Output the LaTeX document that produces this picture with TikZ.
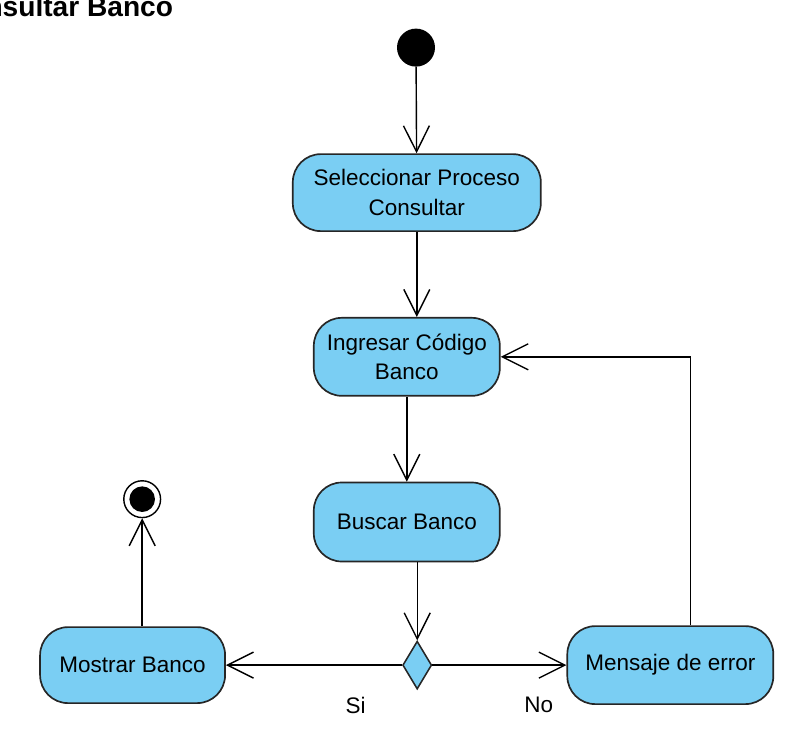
\documentclass[tikz,border=0pt]{standalone}
\usepackage{fontspec}
\setmainfont{Liberation Sans}
\usetikzlibrary{arrows.meta,positioning,shapes.geometric}
\definecolor{actblue}{RGB}{122,206,243}

\begin{document}
\begin{tikzpicture}[
    action/.style={draw, line width=1.2pt, draw=black!85, rounded corners=0.7cm, align=center, fill=actblue, inner sep=2pt, font=\fontsize{16}{21.3}\selectfont},
    startnode/.style={circle, fill=black, minimum size=0.95cm, inner sep=0pt},
    endnode/.style={circle, draw, line width=1pt, fill=white, minimum size=0.92cm, inner sep=0pt,
        path picture={\fill[black] (path picture bounding box.center) circle (0.32cm);}},
    decision/.style={diamond, draw, line width=1.1pt, draw=black!85, fill=actblue, minimum width=0.725cm, minimum height=1.2cm, inner sep=0pt},
    lbl/.style={font=\fontsize{16}{19}\selectfont},
    arrow/.style={-{Straight Barb[length=6.5mm,width=6.5mm,line width=1pt]}, line width=1pt}
]
\useasboundingbox (0,0) rectangle (20.025,-18.325);
\node[anchor=base east, font=\fontsize{20}{24}\selectfont\bfseries] (title) at (4.45,-0.41) {Consultar Banco};
\node[startnode] (start) at (10.4,-1.19) {};
\node[action, minimum width=6.2cm, minimum height=1.925cm, below=2.16cm of start, xshift=0.02cm] (selec) {Seleccionar Proceso\\Consultar};
\node[action, minimum width=4.65cm, minimum height=1.95cm, below=2.125cm of selec, xshift=-0.25cm] (ingresar) {Ingresar Código\\Banco};
\node[action, minimum width=4.65cm, minimum height=1.975cm, below=2.125cm of ingresar] (buscar) {Buscar Banco};
\node[decision, below=1.95cm of buscar, xshift=0.26cm] (dec) {};
\node[action, minimum width=4.625cm, minimum height=1.9cm, left=4.4cm of dec] (mostrar) {Mostrar Banco};
\node[action, minimum width=5.15cm, minimum height=1.95cm, right=3.35cm of dec] (error) {Mensaje de error};
\node[endnode, above=2.7cm of mostrar, xshift=0.24cm] (fin) {};
\node[lbl] (si) at ([shift={(-1.54,-1.0)}]dec) {Si};
\node[lbl] (no) at ([shift={(3.04,-1.0)}]dec) {No};
\draw[arrow] (start) -- (selec);
\draw[arrow] (selec) -- (selec |- ingresar.north);
\draw[arrow] (ingresar) -- (buscar);
\draw[arrow] (buscar.south -| dec) -- (dec);
\draw[arrow] (dec) -- (mostrar);
\draw[arrow] (dec) -- (error);
\draw[arrow] (fin |- mostrar.north) -- (fin);
\draw[arrow] ([xshift=0.5cm]error.north) |- (ingresar.east);
\end{tikzpicture}
\end{document}
